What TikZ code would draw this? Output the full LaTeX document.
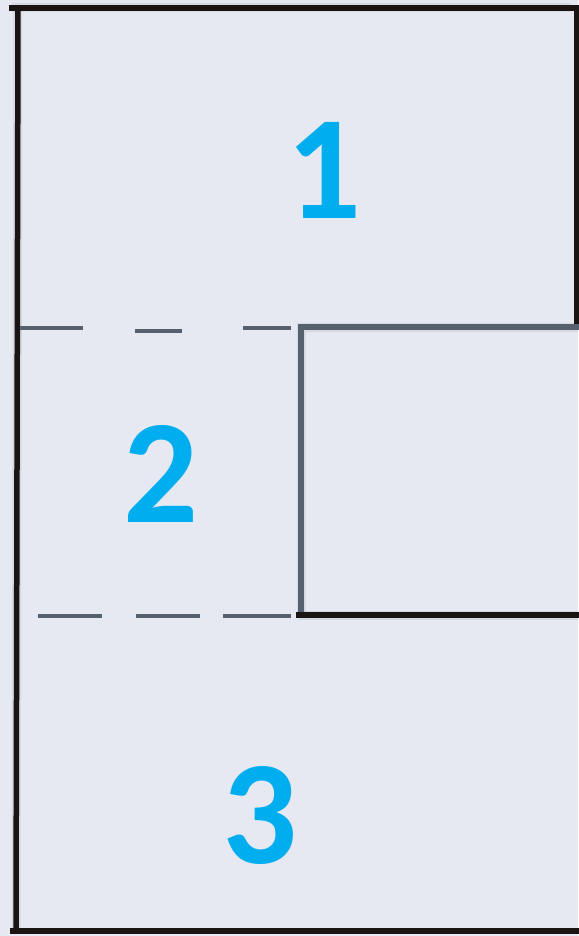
\documentclass[tikz,border=0pt]{standalone}
\usepackage{fontspec}
\setmainfont{Carlito}
\definecolor{bgc}{HTML}{E6E9F2}
\definecolor{inkc}{HTML}{1A1412}
\definecolor{slatec}{HTML}{56616F}
\definecolor{numc}{HTML}{00AEEF}
\tikzset{
  blackline/.style={draw=inkc,line width=5.5pt,line cap=rect},
  slateline/.style={draw=slatec,line width=6pt,line cap=rect},
  dashseg/.style={draw=slatec,line width=3.5pt},
  shadowline/.style={draw=black!50,line width=9pt,opacity=0.15},
  num/.style={text=numc,font=\fontsize{148}{148}\selectfont\bfseries,inner sep=0pt,anchor=base}
}
\begin{document}
\begin{tikzpicture}[x=1pt,y=-1pt]
\fill[bgc] (0,0) rectangle (578,936);
\useasboundingbox (0,0) rectangle (578,936);
% corner coordinates
\coordinate (tl) at (12,8);
\coordinate (tr) at (571,8);
\coordinate (ltop) at (18,8);
\coordinate (lbot) at (16,931);
\coordinate (bl) at (13,931);
\coordinate (br) at (578,931);
\coordinate (rtop) at (577,8);
\coordinate (rmid) at (577,325);
\coordinate (s1) at (301,327);
\coordinate (s2) at (578,327);
\coordinate (s3) at (301,614);
\coordinate (b1) at (299,615);
\coordinate (b2) at (578,615);
% shadows
\begin{scope}[shift={(3,4)}]
\draw[shadowline] (tl) -- (tr);
\draw[shadowline] (ltop) -- (lbot);
\draw[shadowline] (s2) -- (s1) -- (s3);
\draw[shadowline] (b1) -- (b2);
\end{scope}
% outer frame
\draw[blackline] (tl) -- (tr);
\draw[blackline] (ltop) -- (lbot);
\draw[blackline] (bl) -- (br);
\draw[blackline] (rtop) -- (rmid);
% inner box
\draw[slateline] (s2) -- (s1) -- (s3);
\draw[blackline] (b1) -- (b2);
% dashed separators
\coordinate (d1a) at (20,328); \coordinate (d1b) at (83,328);
\coordinate (d2a) at (135,331); \coordinate (d2b) at (182,331);
\coordinate (d3a) at (243,328); \coordinate (d3b) at (291,328);
\coordinate (e1a) at (38,616); \coordinate (e1b) at (102,616);
\coordinate (e2a) at (136,616); \coordinate (e2b) at (200,616);
\coordinate (e3a) at (223,616); \coordinate (e3b) at (291,616);
\draw[dashseg] (d1a) -- (d1b);
\draw[dashseg] (d2a) -- (d2b);
\draw[dashseg] (d3a) -- (d3b);
\draw[dashseg] (e1a) -- (e1b);
\draw[dashseg] (e2a) -- (e2b);
\draw[dashseg] (e3a) -- (e3b);
% numbers
\node[num] (n1) at (324.5,218) {1};
\node[num] (n2) at (161.5,522) {2};
\node[num] (n3) at (260.5,863) {3};
\end{tikzpicture}
\end{document}
